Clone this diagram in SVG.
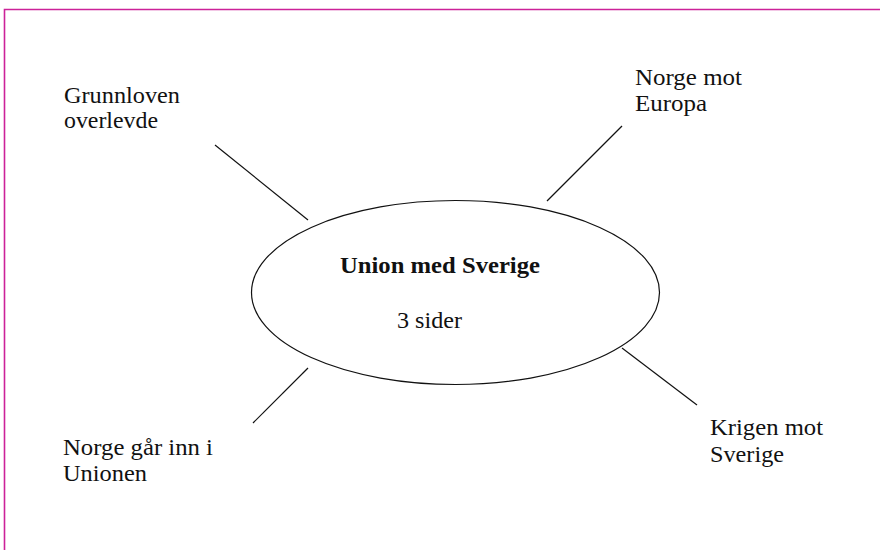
<svg xmlns="http://www.w3.org/2000/svg" width="880" height="550" viewBox="0 0 880 550">
<style>
.t{font-family:"Liberation Serif","Times New Roman",serif;font-size:23px;fill:#111}
.b{font-weight:bold}
.c{stroke:#111;stroke-width:1.2;fill:none}
</style>
<rect width="880" height="550" fill="#fff"/>
<path d="M4.5,550 V9.5 H880" fill="none" stroke="#cc2299" stroke-width="1.6"/>
<g id="connectors">
<line class="c" x1="215" y1="145" x2="308" y2="220"/>
<line class="c" x1="622" y1="126" x2="547" y2="201"/>
<line class="c" x1="308" y1="368" x2="253" y2="423"/>
<line class="c" x1="622" y1="348" x2="697" y2="405"/>
</g>
<g id="center">
<ellipse class="c" cx="455.5" cy="292.5" rx="204" ry="92"/>
<text class="t b" x="340" y="273" textLength="200" lengthAdjust="spacingAndGlyphs">Union med Sverige</text>
<text class="t" x="397" y="328" textLength="65" lengthAdjust="spacingAndGlyphs">3 sider</text>
</g>
<g id="grunnloven">
<text class="t" x="64" y="103" textLength="116" lengthAdjust="spacingAndGlyphs">Grunnloven</text>
<text class="t" x="64" y="128" textLength="94" lengthAdjust="spacingAndGlyphs">overlevde</text>
</g>
<g id="europa">
<text class="t" x="635" y="85" textLength="107" lengthAdjust="spacingAndGlyphs">Norge mot</text>
<text class="t" x="635" y="111" textLength="72" lengthAdjust="spacingAndGlyphs">Europa</text>
</g>
<g id="unionen">
<text class="t" x="63" y="455" textLength="150" lengthAdjust="spacingAndGlyphs">Norge går inn i</text>
<text class="t" x="63" y="481" textLength="84" lengthAdjust="spacingAndGlyphs">Unionen</text>
</g>
<g id="krigen">
<text class="t" x="710" y="435" textLength="113" lengthAdjust="spacingAndGlyphs">Krigen mot</text>
<text class="t" x="710" y="462" textLength="74" lengthAdjust="spacingAndGlyphs">Sverige</text>
</g>
</svg>
